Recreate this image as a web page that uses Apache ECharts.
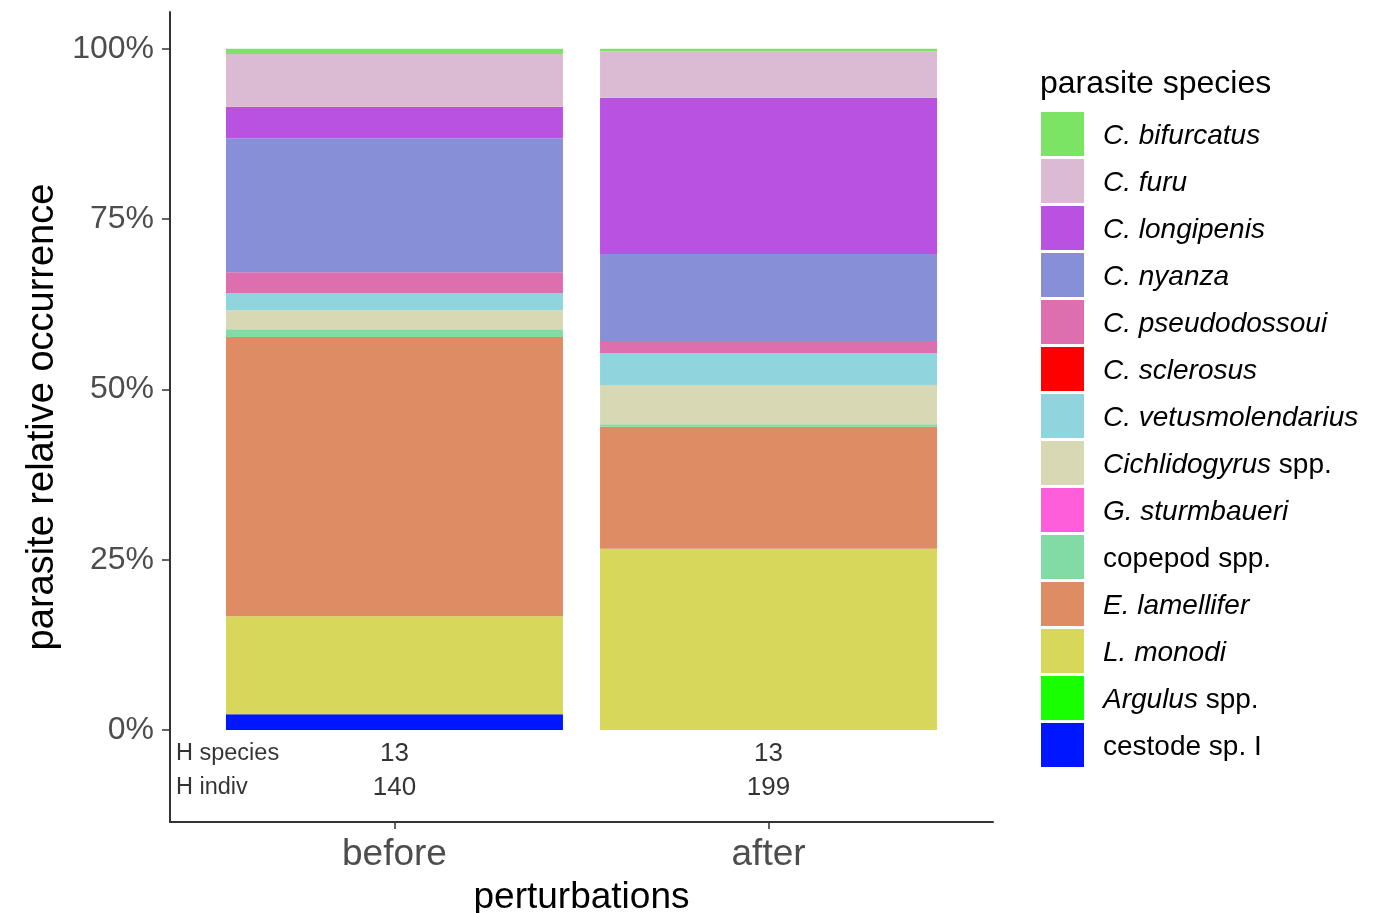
<!DOCTYPE html>
<html>
<head>
<meta charset="utf-8">
<script src="https://cdn.jsdelivr.net/npm/echarts@6/dist/echarts.min.js"></script>
<style>html,body{margin:0;padding:0;background:#fff}#c{width:1381px;height:913px}</style>
</head>
<body>
<div id="c"></div>
<script>
// ---- data (stack order bottom -> top) ----
const categories = ['before', 'after'];
const species = ['cestode sp. I', 'Argulus spp.', 'L. monodi', 'E. lamellifer', 'copepod spp.',
  'G. sturmbaueri', 'Cichlidogyrus spp.', 'C. vetusmolendarius', 'C. sclerosus', 'C. pseudodossoui',
  'C. nyanza', 'C. longipenis', 'C. furu', 'C. bifurcatus'];
const colors = ['#0016FF', '#17FF00', '#D6D75B', '#DD8C63', '#82DBA5',
  '#FF5EDB', '#D8D9B4', '#90D5DD', '#FF0000', '#DE6FAF',
  '#8790D6', '#B952E0', '#DBBBD3', '#7CE464'];
const valuesBefore = [2.30, 0, 14.42, 40.97, 1.13, 0, 2.79, 2.54, 0, 3.04, 19.66, 4.65, 7.72, 0.79];
const valuesAfter  = [0, 0, 26.60, 17.93, 0.34, 0, 5.79, 4.69, 0, 1.76, 12.76, 22.94, 6.84, 0.35];
const yTicks = [0, 25, 50, 75, 100];
const rowLabels = ['H species', 'H indiv'];
const hSpecies = [13, 13];
const hIndiv = [140, 199];

// italic parts of legend names
function legendFmt(name) {
  if (name === 'copepod spp.' || name === 'cestode sp. I') return '{n|' + name + '}';
  if (name.endsWith(' spp.')) return '{i|' + name.slice(0, -5) + '} {n|spp.}';
  return '{i|' + name + '}';
}

const FONT = 'Liberation Sans, Arial, Helvetica, sans-serif';
const catX = categories.map((c, i) => i + 1);

// data items are [value, xPosition] so the stacked dimension is the value
const series = species.map((s, k) => ({
  name: s,
  type: 'bar',
  stack: 'total',
  barWidth: 337,
  encode: { x: 1, y: 0 },
  itemStyle: { color: colors[k] },
  emphasis: { disabled: true },
  data: catX.map((x, i) => [(i === 0 ? valuesBefore : valuesAfter)[k], x])
}));

const rowY = [-3.5, -8.45];
series.push({
  type: 'scatter', name: '_rows', symbolSize: 1, itemStyle: { color: 'rgba(0,0,0,0)' }, silent: true,
  label: { show: true, position: 'inside', align: 'left', verticalAlign: 'middle',
    fontFamily: FONT, fontSize: 23.5, color: '#000', formatter: p => p.value[2] },
  data: rowLabels.map((t, r) => [0.416, rowY[r], t])
});
series.push({
  type: 'scatter', name: '_nums', symbolSize: 1, itemStyle: { color: 'rgba(0,0,0,0)' }, silent: true,
  label: { show: true, position: 'inside', align: 'center', verticalAlign: 'middle',
    fontFamily: FONT, fontSize: 26, color: '#000', formatter: p => String(p.value[2]) },
  data: catX.map((x, i) => [x, rowY[0], hSpecies[i]]).concat(catX.map((x, i) => [x, rowY[1], hIndiv[i]]))
});

const chart = echarts.init(document.getElementById('c'), null, { renderer: 'canvas' });
chart.setOption({
  animation: false,
  backgroundColor: '#fff',
  textStyle: { fontFamily: FONT },
  title: {
    text: 'parasite species', left: 1040, top: 68, padding: 0,
    textStyle: { fontFamily: FONT, fontSize: 32, fontWeight: 'normal', color: '#000' }
  },
  legend: {
    orient: 'vertical', left: 1041, top: 112, padding: 0,
    data: species.slice().reverse(),
    icon: 'rect', itemWidth: 43, itemHeight: 44, itemGap: 3,
    selectedMode: false,
    formatter: legendFmt,
    textStyle: {
      fontFamily: FONT, fontSize: 28, color: '#000', padding: [5, 0, 0, 14],
      rich: {
        i: { fontFamily: FONT, fontSize: 28, fontStyle: 'italic', color: '#000' },
        n: { fontFamily: FONT, fontSize: 28, color: '#000' }
      }
    }
  },
  grid: { left: 170, width: 823, top: 12, height: 810, containLabel: false, outerBoundsMode: 'none' },
  xAxis: {
    type: 'value', min: 0.4, max: 2.6,
    name: 'perturbations', nameLocation: 'middle', nameGap: 57,
    nameTextStyle: { fontFamily: FONT, fontSize: 37, color: '#000' },
    axisLine: { show: true, onZero: false, lineStyle: { color: '#333', width: 2 } },
    axisTick: { show: true, customValues: catX, length: 7, lineStyle: { color: '#333', width: 1.5 } },
    axisLabel: { customValues: catX, fontFamily: FONT, fontSize: 37, color: '#4D4D4D', margin: 14,
      formatter: v => categories[Math.round(v) - 1] || '' },
    splitLine: { show: false }
  },
  yAxis: {
    type: 'value', min: -13.5, max: 105.4,
    name: 'parasite relative occurrence', nameLocation: 'middle', nameGap: 96,
    nameTextStyle: { fontFamily: FONT, fontSize: 38, color: '#000' },
    axisLine: { show: true, onZero: false, lineStyle: { color: '#333', width: 2 } },
    axisTick: { show: true, customValues: yTicks, length: 8, lineStyle: { color: '#333', width: 1.5 } },
    axisLabel: { customValues: yTicks, fontFamily: FONT, fontSize: 32, color: '#4D4D4D', margin: 16,
      formatter: v => v + '%' },
    splitLine: { show: false }
  },
  series: series
});
</script>
</body>
</html>
